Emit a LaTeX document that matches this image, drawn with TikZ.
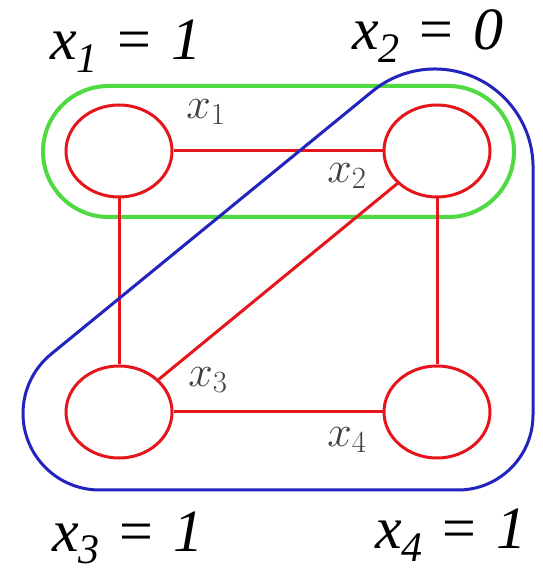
\RequirePackage{fix-cm}
\documentclass[tikz,border=0pt]{standalone}
\usepackage{fontspec}
\setmainfont{Liberation Serif}
\newfontfamily\tnri{Liberation Serif Italic}
\newfontfamily\tnr{Liberation Serif}
\usetikzlibrary{shapes.geometric}
\definecolor{gred}{RGB}{228,22,28}
\definecolor{ggreen}{RGB}{80,218,65}
\definecolor{gblue}{RGB}{35,35,190}
\newcommand\eqlab[2]{{\tnri x}\raisebox{-13pt}{\fontsize{42}{44}\selectfont\tnri #1}\hspace{20pt}{\tnr =}\hspace{20pt}{\tnri #2}}
\tikzset{
  vert/.style={ellipse, draw=gred, line width=3pt, minimum width=106pt, minimum height=92pt, inner sep=0pt},
  edge/.style={draw=gred, line width=3pt},
  hyg/.style={draw=ggreen, line width=4pt},
  hyb/.style={draw=gblue, line width=3pt},
  lab/.style={font=\fontsize{44}{46}\selectfont, text=black!75, inner sep=0pt},
  big/.style={font=\fontsize{60}{66}\selectfont, anchor=base west, inner sep=0pt}
}
\begin{document}
\begin{tikzpicture}[x=1pt,y=1pt]
\useasboundingbox[fill=white] (0,0) rectangle (543,574);
% green hyperedge
\draw[hyg] (108.5,488) -- (448.5,488) arc[start angle=90,end angle=-90,radius=65.5pt] -- (108.5,357) arc[start angle=270,end angle=90,radius=65.5pt] -- cycle;
% vertices
\node[vert] (a) at (119,423) {};
\node[vert] (b) at (437,423) {};
\node[vert] (c) at (119,162) {};
\node[vert] (d) at (437,162) {};
% edges
\draw[edge] (a) -- (b);
\draw[edge] (a) -- (c);
\draw[edge] (b) -- (d);
\draw[edge] (c) -- (d);
\draw[edge] (b) -- (c);
% blue hyperedge
\draw[hyb] (51.1,219.9) -- (372.5,482.8) arc[start angle=129.3,end angle=0,radius=98.3pt] -- (533,159) arc[start angle=0,end angle=-90,radius=75pt] -- (99.6,84) arc[start angle=270,end angle=129.3,radius=76.6pt] -- cycle;
% small labels
\node[lab] (l1) at (206,462) {$x_1$};
\node[lab] (l2) at (347,398) {$x_2$};
\node[lab] (l3) at (208,194) {$x_3$};
\node[lab] (l4) at (347,134) {$x_4$};
% big labels
\node[big] (t1) at (50,514) {\eqlab{1}{1}};
\node[big] (t2) at (352,524) {\eqlab{2}{0}};
\node[big] (t3) at (52,23) {\eqlab{3}{1}};
\node[big] (t4) at (375,25) {\eqlab{4}{1}};
\end{tikzpicture}
\end{document}
